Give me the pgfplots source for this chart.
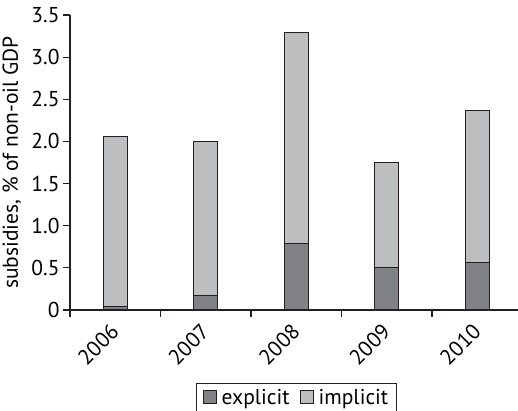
\documentclass[border=0pt]{standalone}
\usepackage{pgfplots}
\pgfplotsset{compat=1.18}
\usepackage{fontspec}
\setmainfont{PT Sans}
\definecolor{explicitc}{HTML}{808285}
\definecolor{implicitc}{HTML}{BCBEC0}
\definecolor{edgec}{HTML}{231F20}
\newcommand{\chartfont}{\fontsize{21.5bp}{25bp}\selectfont}
\begin{document}
\begin{tikzpicture}
\begin{axis}[
  at={(0,0)}, anchor=south west,
  scale only axis,
  width=448bp, height=295bp,
  xmin=0.5, xmax=5.45,
  ymin=0, ymax=3.5,
  ybar stacked,
  bar width=0.265,
  axis lines=left,
  axis line style={-, edgec, line width=1.2bp},
  tick align=outside,
  major tick length=7bp,
  tick style={edgec, line width=1.2bp},
  ytick={0,0.5,1,1.5,2,2.5,3,3.5},
  yticklabels={0,0.5,1.0,1.5,2.0,2.5,3.0,3.5},
  xtick={0.5,1.5,2.5,3.5,4.5},
  xticklabels={},
  extra x ticks={1,2,3,4,5},
  extra x tick labels={2006,2007,2008,2009,2010},
  extra x tick style={tick style={draw=none}},
  ticklabel style={font=\chartfont},
  xticklabel style={xshift=2bp, yshift=-8.5bp, rotate=45, anchor=east},
  ylabel={subsidies, \% of non-oil GDP},
  ylabel style={font=\chartfont, at={(axis description cs:-0.13,0.5)}, anchor=center},
  legend columns=2,
  legend style={
    at={(axis description cs:0.5056,-0.247)}, anchor=north,
    draw=edgec, line width=1bp, font=\chartfont,
    inner xsep=6bp, inner ysep=3.5bp,
    /tikz/every odd column/.append style={column sep=3bp},
    /tikz/every even column/.append style={column sep=8bp},
  },
  legend image code/.code={\draw[#1, line width=1bp] (0bp,-6.5bp) rectangle (13bp,6.5bp);},
]
\addplot[fill=explicitc, draw=edgec, line width=1.2bp] coordinates {(1,0.045) (2,0.17) (3,0.79) (4,0.50) (5,0.565)};
\addlegendentry{explicit}
\addplot[fill=implicitc, draw=edgec, line width=1.2bp] coordinates {(1,2.015) (2,1.83) (3,2.50) (4,1.25) (5,1.805)};
\addlegendentry{implicit}
\end{axis}
\pgfresetboundingbox
\path (-70bp,-101bp) rectangle (448bp,310bp);
\end{tikzpicture}
\end{document}
